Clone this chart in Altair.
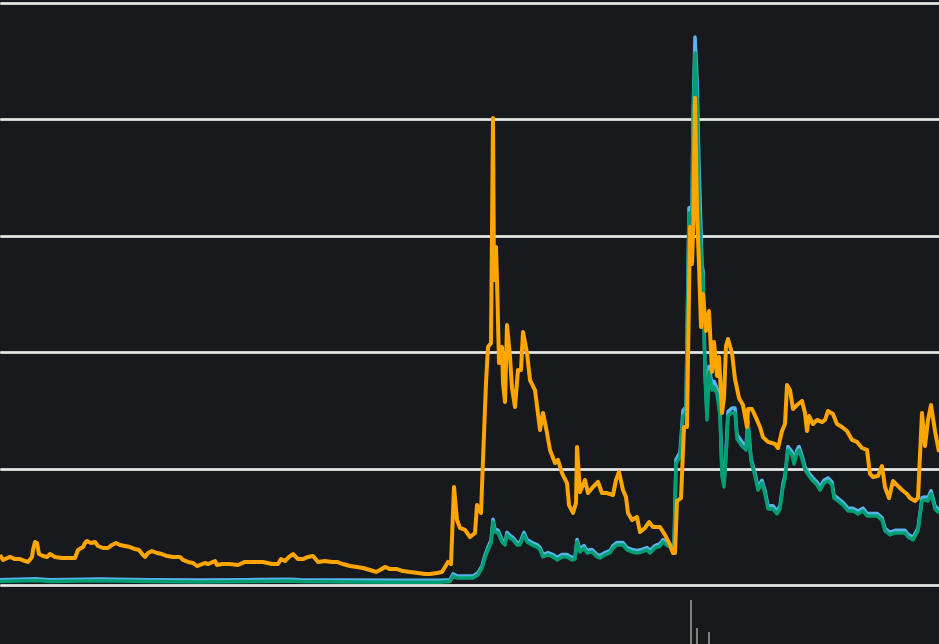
import altair as alt
import pandas as pd
import jinja2

# ---------------- data ----------------
t_orange = [0, 3, 10, 15, 20, 25, 28, 32, 33, 35, 37, 39, 43, 47, 50, 55, 62, 68, 75, 78,
            83, 85, 87, 91, 95, 98, 103, 108, 112, 116, 120, 125, 130, 135, 139, 143, 145, 148,
            152, 157, 162, 167, 173, 180, 183, 188, 193, 197, 200, 205, 208, 215, 217, 222, 230,
            238, 245, 253, 263, 272, 278, 281, 285, 289, 293, 298, 303, 308, 313, 318, 325, 332,
            337, 343, 350, 357, 363, 370, 376, 380, 385, 390, 397, 403, 410, 418, 425, 430, 437,
            442, 445, 448, 451, 454, 457, 460, 465, 470, 475, 477, 481, 483, 486, 488, 491, 493,
            494, 496, 497, 499, 502, 503, 505, 507, 510, 512, 515, 518, 521, 523, 527, 530, 535,
            540, 543, 547, 550, 555, 558, 562, 567, 569, 573, 576, 577, 580, 585, 588, 593, 598,
            602, 607, 613, 616, 619, 623, 626, 628, 632, 637, 640, 645, 649, 653, 660, 665, 670,
            673, 675, 677, 681, 684, 687, 690, 692, 693, 695, 697, 699, 701, 703, 706, 709, 712,
            714, 717, 719, 722, 724, 726, 728, 732, 735, 739, 743, 747, 748, 752, 757, 760, 763,
            768, 775, 778, 782, 785, 787, 790, 793, 797, 802, 805, 807, 809, 813, 817, 822, 825,
            828, 833, 837, 842, 847, 852, 857, 862, 867, 870, 873, 878, 882, 885, 889, 893, 897,
            902, 907, 910, 915, 918, 922, 925, 928, 931, 935, 939]
v_orange = [0.258, 0.215, 0.241, 0.223, 0.223, 0.206, 0.198, 0.241, 0.301, 0.369, 0.361, 0.266,
            0.249, 0.241, 0.266, 0.241, 0.232, 0.232, 0.232, 0.301, 0.326, 0.361, 0.378, 0.361,
            0.369, 0.335, 0.318, 0.318, 0.344, 0.361, 0.344, 0.335, 0.326, 0.309, 0.301, 0.258,
            0.241, 0.275, 0.292, 0.275, 0.266, 0.249, 0.241, 0.241, 0.215, 0.198, 0.189, 0.163,
            0.172, 0.189, 0.180, 0.206, 0.172, 0.180, 0.180, 0.172, 0.198, 0.198, 0.198, 0.180,
            0.180, 0.223, 0.206, 0.241, 0.266, 0.223, 0.223, 0.241, 0.249, 0.198, 0.206, 0.198,
            0.198, 0.180, 0.163, 0.155, 0.146, 0.129, 0.112, 0.129, 0.155, 0.137, 0.137, 0.120,
            0.112, 0.103, 0.095, 0.095, 0.103, 0.112, 0.155, 0.198, 0.180, 0.842, 0.558, 0.490,
            0.473, 0.412, 0.447, 0.687, 0.619, 1.074, 1.735, 2.045, 2.079, 4.012, 2.620, 2.904,
            2.620, 1.907, 2.045, 1.735, 1.572, 2.234, 1.959, 1.692, 1.529, 1.847, 1.847, 2.174,
            1.993, 1.761, 1.675, 1.332, 1.478, 1.306, 1.160, 1.048, 1.074, 0.962, 0.876, 0.687,
            0.619, 0.704, 1.186, 0.799, 0.902, 0.790, 0.842, 0.885, 0.790, 0.790, 0.773, 0.902,
            0.971, 0.816, 0.756, 0.619, 0.558, 0.584, 0.455, 0.490, 0.541, 0.498, 0.498, 0.430,
            0.344, 0.275, 0.275, 0.722, 0.747, 1.357, 1.357, 3.076, 2.758, 3.007, 4.184, 3.196,
            2.758, 2.216, 2.500, 2.182, 2.354, 1.830, 2.088, 1.796, 1.959, 1.478, 1.607, 2.053,
            2.113, 1.993, 1.770, 1.607, 1.546, 1.357, 1.512, 1.512, 1.418, 1.357, 1.271, 1.229,
            1.211, 1.177, 1.323, 1.383, 1.718, 1.675, 1.512, 1.546, 1.581, 1.478, 1.323, 1.452,
            1.383, 1.418, 1.400, 1.418, 1.495, 1.469, 1.383, 1.357, 1.323, 1.246, 1.229, 1.177,
            1.160, 0.954, 0.928, 0.936, 1.022, 0.842, 0.747, 0.893, 0.859, 0.816, 0.782, 0.747,
            0.722, 0.747, 1.478, 1.194, 1.418, 1.546, 1.323, 1.143]

t_teal = [0, 35, 50, 100, 150, 200, 250, 290, 300, 350, 400, 440, 450, 453, 457, 473, 478, 482,
          485, 488, 491, 493, 495, 498, 502, 505, 507, 510, 513, 517, 520, 524, 527, 532, 537,
          540, 543, 548, 553, 557, 562, 567, 572, 575, 577, 580, 584, 587, 592, 597, 600, 605,
          610, 613, 617, 620, 623, 627, 632, 637, 642, 647, 650, 655, 660, 663, 668, 672, 674,
          676, 680, 683, 686, 689, 692, 693, 695, 697, 699, 702, 703, 705, 707, 709, 712, 714,
          717, 720, 722, 724, 726, 728, 732, 735, 737, 742, 746, 748, 751, 755, 758, 762, 765,
          768, 773, 777, 780, 783, 785, 788, 792, 794, 797, 799, 802, 805, 809, 813, 817, 820,
          824, 828, 832, 834, 838, 843, 848, 853, 858, 863, 867, 872, 877, 882, 885, 890, 895,
          900, 905, 908, 913, 918, 922, 925, 928, 931, 935, 939]
v_green = [0.030, 0.038, 0.030, 0.036, 0.030, 0.026, 0.030, 0.034, 0.030, 0.026, 0.024, 0.024,
           0.030, 0.077, 0.060, 0.060, 0.086, 0.146, 0.232, 0.301, 0.361, 0.541, 0.455, 0.447,
           0.369, 0.344, 0.430, 0.404, 0.387, 0.344, 0.344, 0.430, 0.369, 0.344, 0.326, 0.301,
           0.241, 0.258, 0.241, 0.215, 0.241, 0.241, 0.215, 0.223, 0.369, 0.284, 0.318, 0.275,
           0.284, 0.241, 0.232, 0.258, 0.275, 0.318, 0.344, 0.344, 0.344, 0.301, 0.284, 0.275,
           0.284, 0.301, 0.275, 0.318, 0.335, 0.369, 0.335, 0.318, 0.300, 1.040, 1.100, 1.452,
           1.478, 3.196, 3.196, 3.900, 4.570, 4.158, 3.265, 2.689, 2.629, 1.796, 1.418, 1.830,
           1.675, 1.701, 1.641, 1.452, 0.936, 0.842, 1.100, 1.452, 1.478, 1.478, 1.254, 1.194,
           1.160, 1.383, 1.065, 0.936, 0.816, 0.876, 0.782, 0.653, 0.653, 0.610, 0.653, 0.842,
           0.911, 1.160, 1.117, 1.040, 1.134, 1.160, 1.082, 0.988, 0.936, 0.893, 0.859, 0.816,
           0.876, 0.893, 0.859, 0.747, 0.722, 0.687, 0.636, 0.636, 0.610, 0.636, 0.593, 0.593,
           0.593, 0.558, 0.464, 0.430, 0.447, 0.447, 0.447, 0.412, 0.387, 0.464, 0.722, 0.730,
           0.722, 0.782, 0.653, 0.619]
v_blue = [0.046, 0.054, 0.046, 0.052, 0.046, 0.042, 0.046, 0.050, 0.046, 0.042, 0.040, 0.040,
          0.046, 0.095, 0.078, 0.078, 0.105, 0.165, 0.255, 0.325, 0.385, 0.565, 0.478, 0.470,
          0.390, 0.365, 0.452, 0.425, 0.408, 0.365, 0.365, 0.452, 0.390, 0.365, 0.347, 0.322,
          0.262, 0.279, 0.262, 0.236, 0.262, 0.262, 0.236, 0.244, 0.390, 0.305, 0.339, 0.296,
          0.305, 0.262, 0.253, 0.279, 0.296, 0.339, 0.365, 0.365, 0.365, 0.322, 0.305, 0.296,
          0.305, 0.322, 0.296, 0.339, 0.356, 0.390, 0.356, 0.339, 0.320, 1.080, 1.140, 1.500,
          1.530, 3.240, 3.250, 4.000, 4.708, 4.350, 3.600, 2.750, 2.700, 1.850, 1.470, 1.880,
          1.720, 1.750, 1.690, 1.500, 0.970, 0.880, 1.140, 1.490, 1.520, 1.520, 1.290, 1.230,
          1.190, 1.410, 1.090, 0.960, 0.840, 0.900, 0.810, 0.680, 0.680, 0.635, 0.680, 0.870,
          0.940, 1.190, 1.145, 1.070, 1.160, 1.190, 1.110, 1.015, 0.960, 0.920, 0.885, 0.840,
          0.900, 0.920, 0.885, 0.770, 0.745, 0.710, 0.660, 0.660, 0.635, 0.660, 0.615, 0.615,
          0.615, 0.580, 0.487, 0.453, 0.470, 0.470, 0.470, 0.435, 0.410, 0.487, 0.750, 0.757,
          0.750, 0.810, 0.680, 0.645]

t_volume = [691, 697, 709]
v_volume = [87, 62.6, 59.1]

grid_values = [0, 1, 2, 3, 4, 5]

# ---------------- tables ----------------
lines = pd.concat([
    pd.DataFrame({"t": t_teal, "v": v_blue, "series": "blue"}),
    pd.DataFrame({"t": t_teal, "v": v_green, "series": "green"}),
    pd.DataFrame({"t": t_orange, "v": v_orange, "series": "orange"}),
], ignore_index=True)
vol = pd.DataFrame({"t": t_volume, "vol": v_volume})

BG = "#18191d"
W, H = 939, 644

xscale = alt.Scale(domain=[0, 939], nice=False, zero=False, padding=0)
yscale = alt.Scale(domain=[0, 5], range=[585, 3], nice=False, zero=False)


def line_layer(name, color, width):
    return alt.Chart(lines).transform_filter(alt.datum.series == name).mark_line(
        color=color, strokeWidth=width, strokeJoin="round", clip=True
    ).encode(
        x=alt.X("t:Q", scale=xscale, axis=None),
        y=alt.Y("v:Q", scale=yscale,
                axis=alt.Axis(values=grid_values, grid=True, gridColor="#e6e6e6",
                              gridWidth=2, gridOpacity=1, labels=False, ticks=False,
                              domain=False, title=None)),
        order="t:Q",
    )


blue = line_layer("blue", "#56b4e9", 3.5)
green = line_layer("green", "#009e73", 3.5)
orange = line_layer("orange", "#ffa500", 4)

bars = alt.Chart(vol).mark_bar(color="#808080", size=2).encode(
    x=alt.X("t:Q", scale=xscale, axis=None),
    y=alt.Y("vol:Q", scale=alt.Scale(domain=[0, 100], range=[700, 585], nice=False), axis=None),
)

chart = alt.layer(bars, blue, green, orange).resolve_scale(y="independent").properties(
    width=W, height=H, padding=0, autosize=alt.AutoSizeParams(type="none"),
    background=BG,
).configure_view(stroke=None)

TEMPLATE = jinja2.Template("""<!DOCTYPE html>
<html>
<head>
  <meta charset="utf-8">
  <style>
    html, body { margin: 0; padding: 0; background: #18191d; overflow: hidden; }
  </style>
  <script type="text/javascript" src="{{ base_url }}/vega@{{ vega_version }}"></script>
  <script type="text/javascript" src="{{ base_url }}/vega-lite@{{ vegalite_version }}"></script>
  <script type="text/javascript" src="{{ base_url }}/vega-embed@{{ vegaembed_version }}"></script>
</head>
<body>
  <div id="{{ output_div }}"></div>
  <script type="text/javascript">
    var spec = {{ spec }};
    var embedOpt = {{ embed_options }};
    vegaEmbed("#{{ output_div }}", spec, embedOpt).catch(console.error);
  </script>
</body>
</html>""")

chart.save("out.html", embed_options={"renderer": "svg", "actions": False}, template=TEMPLATE)
